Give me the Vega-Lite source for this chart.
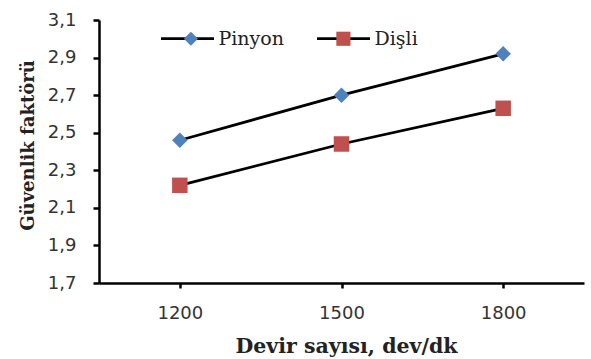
{
  "$schema": "https://vega.github.io/schema/vega-lite/v6.json",
  "width": 485,
  "height": 263,
  "autosize": {"type": "none"},
  "padding": {"left": 99, "top": 20, "right": 7, "bottom": 76},
  "background": "white",
  "config": {"view": {"stroke": null}},
  "data": {
    "values": [
      {"devir": "1200", "seri": "Pinyon", "guvenlik": 2.46},
      {"devir": "1500", "seri": "Pinyon", "guvenlik": 2.70},
      {"devir": "1800", "seri": "Pinyon", "guvenlik": 2.92},
      {"devir": "1200", "seri": "Dişli", "guvenlik": 2.22},
      {"devir": "1500", "seri": "Dişli", "guvenlik": 2.44},
      {"devir": "1800", "seri": "Dişli", "guvenlik": 2.63}
    ]
  },
  "encoding": {
    "x": {
      "field": "devir",
      "type": "ordinal",
      "scale": {"type": "point", "padding": 0.5},
      "axis": {
        "title": "Devir sayısı, dev/dk",
        "labelAngle": 0,
        "domainColor": "black",
        "domainWidth": 2.5,
        "tickColor": "black",
        "tickWidth": 2.5,
        "tickSize": 5,
        "labelFont": "DejaVu Sans",
        "labelFontSize": 18,
        "labelColor": "#333333",
        "labelPadding": 16,
        "titleFont": "DejaVu Serif",
        "titleFontWeight": "bold",
        "titleFontSize": 20.5,
        "titleColor": "#222222",
        "titleBaseline": "alphabetic",
        "titleY": 69,
        "titleX": 247
      }
    },
    "y": {
      "field": "guvenlik",
      "type": "quantitative",
      "scale": {"domain": [1.7, 3.1], "zero": false, "nice": false},
      "axis": {
        "title": "Güvenlik  faktörü",
        "values": [1.7, 1.9, 2.1, 2.3, 2.5, 2.7, 2.9, 3.1],
        "labelExpr": "replace(format(datum.value, '.1f'), '.', ',')",
        "grid": false,
        "domainColor": "black",
        "domainWidth": 2.5,
        "tickColor": "black",
        "tickWidth": 2.5,
        "tickSize": 6,
        "labelFont": "DejaVu Sans",
        "labelFontSize": 18,
        "labelColor": "#333333",
        "labelPadding": 17,
        "titleFont": "DejaVu Serif",
        "titleFontWeight": "bold",
        "titleFontSize": 18,
        "titleColor": "#222222",
        "titleBaseline": "alphabetic",
        "titleAlign": "center",
        "titleAngle": -90,
        "titleX": -66,
        "titleY": 125
      }
    }
  },
  "layer": [
    {
      "mark": {"type": "line", "strokeWidth": 2.75},
      "encoding": {
        "stroke": {
          "field": "seri",
          "type": "nominal",
          "sort": ["Pinyon", "Dişli"],
          "scale": {"range": ["black", "black"]},
          "legend": {
            "orient": "none",
            "legendX": 60.5,
            "legendY": -9.5,
            "direction": "horizontal",
            "title": null,
            "padding": 0,
            "symbolType": "stroke",
            "symbolSize": 2809,
            "symbolStrokeWidth": 2.75,
            "symbolStrokeColor": "black",
            "labelFont": "DejaVu Serif",
            "labelFontSize": 19,
            "labelColor": "#222222",
            "labelOffset": 3,
            "columnPadding": 27
          }
        }
      }
    },
    {
      "mark": {"type": "point", "filled": true, "opacity": 1, "size": 240},
      "encoding": {
        "fill": {
          "field": "seri",
          "type": "nominal",
          "scale": {"domain": ["Pinyon", "Dişli"], "range": ["#4F81BD", "#C0504D"]},
          "legend": {
            "orient": "none",
            "legendX": 82.4,
            "legendY": 9,
            "direction": "horizontal",
            "title": null,
            "padding": 0,
            "symbolSize": 200,
            "symbolStrokeWidth": 0,
            "symbolOpacity": 1,
            "labelFont": "DejaVu Serif",
            "labelFontSize": 19,
            "labelExpr": "''",
            "labelOffset": 5,
            "columnPadding": 128.5
          }
        },
        "shape": {
          "field": "seri",
          "type": "nominal",
          "scale": {"domain": ["Pinyon", "Dişli"], "range": ["diamond", "square"]},
          "legend": {
            "orient": "none",
            "legendX": 82.4,
            "legendY": 9,
            "direction": "horizontal",
            "title": null,
            "padding": 0,
            "symbolSize": 200,
            "symbolStrokeWidth": 0,
            "symbolOpacity": 1,
            "labelFont": "DejaVu Serif",
            "labelFontSize": 19,
            "labelExpr": "''",
            "labelOffset": 5,
            "columnPadding": 128.5
          }
        }
      }
    }
  ]
}
